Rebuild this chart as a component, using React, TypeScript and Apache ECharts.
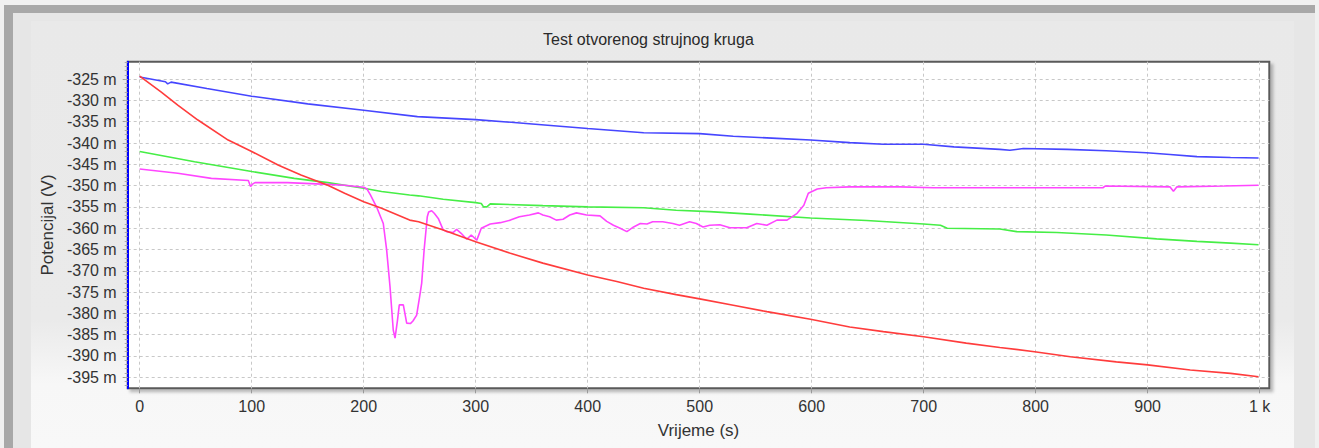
import React, { useEffect, useRef } from "react";
import * as echarts from "echarts";

// ---- data (time in s, potential in mV) ----
const xTicks = [0, 100, 200, 300, 400, 500, 600, 700, 800, 900, 1000];
const yTicks = [-395, -390, -385, -380, -375, -370, -365, -360, -355, -350, -345, -340, -335, -330, -325];
const yMinorTicks = [-397, -396, -395, -394, -393, -392, -391, -390, -389, -388, -387, -386, -385, -384, -383, -382, -381, -380, -379, -378, -377, -376, -375, -374, -373, -372, -371, -370, -369, -368, -367, -366, -365, -364, -363, -362, -361, -360, -359, -358, -357, -356, -355, -354, -353, -352, -351, -350, -349, -348, -347, -346, -345, -344, -343, -342, -341, -340, -339, -338, -337, -336, -335, -334, -333, -332, -331, -330, -329, -328, -327, -326, -325, -324, -323, -322, -321];

const blueT = [0, 23, 25, 28, 60, 100, 150, 200, 248, 300, 345, 400, 450, 500, 530, 569, 599, 634, 664, 700, 727, 768, 777, 789, 828, 863, 899, 920, 944, 974, 999];
const blueV = [-324.5, -325.6, -326.1, -325.7, -327.2, -329.0, -330.8, -332.3, -333.8, -334.5, -335.4, -336.6, -337.6, -337.8, -338.4, -338.9, -339.3, -339.9, -340.3, -340.3, -340.9, -341.5, -341.7, -341.3, -341.5, -341.8, -342.3, -342.7, -343.2, -343.4, -343.5];

const redT = [0, 19, 34, 52, 79, 100, 124, 144, 168, 183, 200, 216, 241, 249, 271, 300, 331, 360, 400, 426, 450, 479, 500, 530, 560, 599, 634, 664, 700, 738, 768, 799, 831, 872, 900, 938, 974, 999];
const redV = [-324.3, -328.0, -331.1, -334.6, -339.3, -342.0, -345.2, -347.5, -349.9, -351.8, -353.8, -355.3, -358.1, -358.5, -360.4, -363.2, -365.9, -368.2, -371.0, -372.5, -374.1, -375.6, -376.6, -378.1, -379.6, -381.4, -383.2, -384.3, -385.5, -387.0, -388.0, -389.0, -390.2, -391.4, -392.1, -393.3, -394.1, -394.9];

const greenT = [0, 49, 100, 138, 168, 200, 216, 241, 249, 271, 300, 305, 307, 310, 313, 360, 400, 450, 479, 509, 545, 599, 649, 700, 715, 721, 768, 783, 819, 863, 908, 944, 974, 999];
const greenV = [-342.0, -344.4, -346.7, -348.3, -349.3, -350.6, -351.4, -352.2, -352.4, -353.2, -354.0, -354.2, -355.0, -355.0, -354.3, -354.7, -355.0, -355.2, -355.8, -356.1, -356.7, -357.6, -358.2, -359.0, -359.3, -360.0, -360.2, -360.8, -361.0, -361.6, -362.5, -363.1, -363.5, -363.9];

const pinkT = [0, 34, 64, 97, 99, 101, 103, 132, 168, 183, 200, 203, 206, 212, 217.5, 220.5, 223.5, 226.4, 228, 230, 231.8, 235.4, 238.4, 241.7, 244, 247.3, 250, 251.8, 254, 256.8, 258, 260.7, 263, 266.6, 271, 274, 280, 283, 287, 292, 296, 301, 305, 313, 322, 331, 339, 348, 356, 360, 366, 372, 378, 384, 390, 399, 411, 417, 423, 429, 435, 441, 447, 453, 458, 467, 476, 482, 491, 497, 503, 509, 518, 527, 542, 551, 560, 569, 578, 587, 593, 597, 605, 613, 634, 679, 709, 768, 789, 860, 862, 920, 923, 926, 968, 999];
const pinkV = [-346.1, -347.1, -348.3, -348.8, -350.2, -349.6, -349.3, -349.3, -349.7, -349.9, -350.4, -350.8, -352.2, -355.3, -358.9, -365.1, -373.7, -383.9, -385.8, -382.0, -378.0, -378.0, -382.3, -382.4, -381.8, -380.4, -376.0, -372.9, -365.0, -357.3, -356.2, -355.9, -356.5, -357.7, -360.4, -360.8, -361.0, -360.3, -361.2, -362.6, -361.6, -362.8, -360.0, -359.0, -358.7, -358.1, -357.3, -356.9, -356.4, -356.9, -357.3, -358.1, -357.9, -356.9, -356.4, -356.9, -357.1, -358.4, -359.3, -360.0, -360.8, -359.7, -358.9, -359.0, -358.5, -358.5, -358.9, -359.3, -358.5, -358.9, -359.7, -359.3, -359.2, -359.9, -359.9, -358.9, -359.3, -358.1, -358.1, -356.5, -354.6, -351.8, -350.8, -350.5, -350.3, -350.3, -350.5, -350.5, -350.5, -350.5, -350.1, -350.3, -351.3, -350.3, -350.1, -349.9];

const title = "Test otvorenog strujnog kruga";
const xName = "Vrijeme (s)";
const yName = "Potencijal (V)";

const zip = (t: number[], v: number[]) => t.map((x, i) => [x, v[i]]);

const FONT = "Liberation Sans, Arial, sans-serif";

export default function App() {
  const ref = useRef<HTMLDivElement>(null);

  useEffect(() => {
    if (!ref.current) return;
    const chart = echarts.init(ref.current, undefined, { renderer: "svg" });
    const mkLine = (name: string, color: string, data: number[][]) => ({
      name,
      type: "line",
      data,
      showSymbol: false,
      symbol: "none",
      lineStyle: { color, width: 1.6 },
      itemStyle: { color },
    });
    chart.setOption({
      animation: false,
      backgroundColor: "transparent",
      textStyle: { fontFamily: FONT },
      title: {
        text: title,
        left: 543,
        top: 31,
        padding: 0,
        textStyle: { fontSize: 16, fontWeight: "normal", color: "#2a2a2a", fontFamily: FONT },
      },
      grid: {
        left: 127.7,
        right: 49.7,
        top: 61.7,
        bottom: 59.7,
        show: true,
        backgroundColor: "#ffffff",
        borderColor: "#5a5a5a",
        borderWidth: 2,
        shadowColor: "rgba(0,0,0,0.25)",
        shadowBlur: 3,
        shadowOffsetX: 3,
        shadowOffsetY: 3,
      },
      xAxis: {
        type: "value",
        min: -10.7,
        max: 1008.6,
        name: xName,
        nameLocation: "middle",
        nameGap: 34,
        nameTextStyle: { fontSize: 17, color: "#333", fontFamily: FONT },
        axisLine: { show: false, onZero: false },
        axisTick: { show: true, customValues: xTicks, length: 5, lineStyle: { color: "#999" } },
        axisLabel: {
          customValues: xTicks,
          margin: 10,
          fontSize: 16,
          color: "#333",
          fontFamily: FONT,
          formatter: (v: number) => (v === 1000 ? "1 k" : String(v)),
        },
        splitLine: { show: true, lineStyle: { color: "#c8c8c8", type: [3, 3], width: 1 } },
      },
      yAxis: [
        {
          type: "value",
          position: "left",
          min: -397.6,
          max: -320.9,
          name: yName,
          nameLocation: "middle",
          nameGap: 71,
          nameTextStyle: { fontSize: 17, color: "#333", fontFamily: FONT },
          axisLine: { show: true, onZero: false, lineStyle: { color: "#0000ff", width: 2 } },
          axisTick: { show: true, customValues: yTicks, length: 5, lineStyle: { color: "#999" } },
          axisLabel: {
            customValues: yTicks,
            margin: 11,
            fontSize: 16,
            color: "#333",
            fontFamily: FONT,
            formatter: (v: number) => `${v} m`,
          },
          splitLine: { show: true, lineStyle: { color: "#c8c8c8", type: [3, 3], width: 1 } },
        },
        {
          type: "value",
          position: "left",
          offset: 0,
          min: -397.6,
          max: -320.9,
          axisLine: { show: false, onZero: false },
          axisTick: { show: true, customValues: yMinorTicks, length: 3, lineStyle: { color: "#aaa" } },
          axisLabel: { show: false },
          splitLine: { show: false },
        },
      ],
      series: [
        mkLine("blue", "#4646ff", zip(blueT, blueV)),
        mkLine("green", "#46ee46", zip(greenT, greenV)),
        mkLine("pink", "#ff46ff", zip(pinkT, pinkV)),
        mkLine("red", "#ff3c3c", zip(redT, redV)),
      ],
    });
    return () => chart.dispose();
  }, []);

  return (
    <div style={{ position: "fixed", left: 0, top: 0, width: 1319, height: 448, background: "#f0f0f0", overflow: "hidden" }}>
      <div style={{ position: "absolute", left: 4, top: 5, width: 1311, height: 443, background: "#a8a8a8" }} />
      <div style={{ position: "absolute", left: 13, top: 13, width: 1302, height: 435, background: "#e6e6e6" }} />
      <div
        style={{
          position: "absolute",
          left: 31,
          top: 21,
          width: 1263,
          height: 427,
          background: "linear-gradient(#e9e9e9, #eaeaea 70%, #f7f7f7 85%, #f8f8f8)",
        }}
      />
      <div ref={ref} style={{ position: "absolute", left: 0, top: 0, width: 1319, height: 448 }} />
    </div>
  );
}
